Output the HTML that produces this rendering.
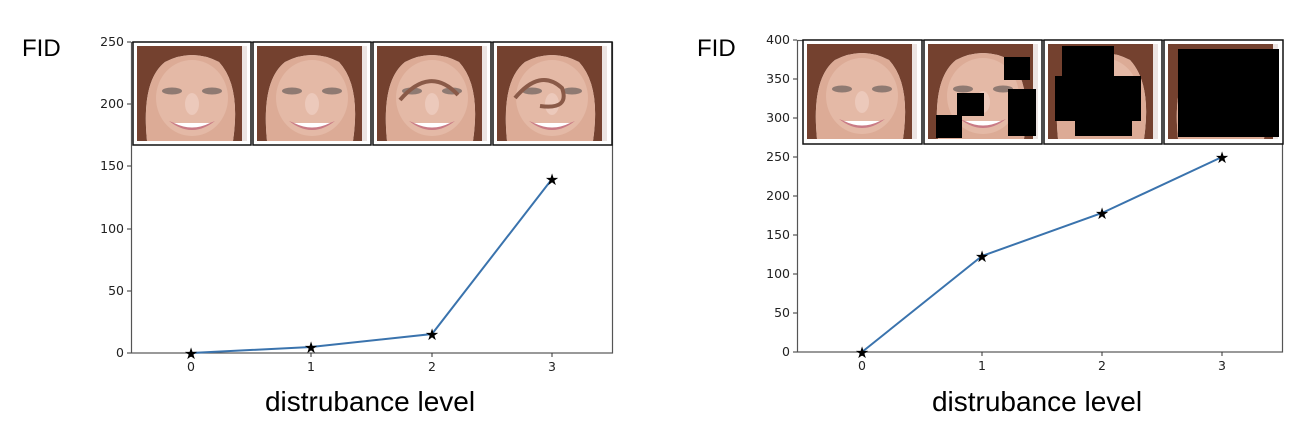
<!DOCTYPE html>
<html><head><style>
body{margin:0;background:#fff;width:1305px;height:420px;overflow:hidden;font-family:"Liberation Sans",sans-serif}
</style></head><body>
<svg width="1305" height="420" viewBox="0 0 1305 420" xmlns="http://www.w3.org/2000/svg" font-family="DejaVu Sans, Liberation Sans, sans-serif">
<defs>
<g id="face">
<rect x="0" y="0" width="110" height="95" fill="#ece4e2"/>
<path d="M0,0 H105 V95 H96 Q104,40 82,16 Q55,2 28,16 Q4,35 10,95 H0 Z" fill="#74412f"/>
<path d="M10,95 Q4,35 28,16 Q55,2 82,16 Q104,40 96,95 Z" fill="#dcab96"/>
<ellipse cx="55" cy="52" rx="36" ry="38" fill="#e4b9a6"/>
<ellipse cx="35" cy="45" rx="10" ry="3.5" fill="#8f7a72"/>
<ellipse cx="75" cy="45" rx="10" ry="3.5" fill="#8f7a72"/>
<ellipse cx="55" cy="58" rx="7" ry="11" fill="#ecc9bb"/>
<path d="M32,75 Q55,93 78,75 Q55,85 32,75Z" fill="#c97b86"/>
<path d="M37,77 Q55,86 73,77 Z" fill="#fff"/>
</g>
</defs>
<!-- LEFT -->
<text x="22" y="56" font-family="Liberation Sans" font-size="24">FID</text>
<rect x="131.5" y="42.5" width="481" height="310.5" fill="none" stroke="#555" stroke-width="1.2"/>
<g font-size="12.5" fill="#222" text-anchor="end">
<text x="124" y="357">0</text><text x="124" y="295">50</text><text x="124" y="233">100</text><text x="124" y="170">150</text><text x="124" y="108">200</text><text x="124" y="46">250</text>
</g>
<g stroke="#333"><line x1="127" y1="353" x2="131" y2="353"/><line x1="127" y1="291" x2="131" y2="291"/><line x1="127" y1="229" x2="131" y2="229"/><line x1="127" y1="166" x2="131" y2="166"/><line x1="127" y1="104" x2="131" y2="104"/><line x1="127" y1="42" x2="131" y2="42"/>
<line x1="191" y1="353" x2="191" y2="357"/><line x1="311" y1="353" x2="311" y2="357"/><line x1="432" y1="353" x2="432" y2="357"/><line x1="552" y1="353" x2="552" y2="357"/></g>
<g font-size="12.5" fill="#222" text-anchor="middle"><text x="191" y="371">0</text><text x="311" y="371">1</text><text x="432" y="371">2</text><text x="552" y="371">3</text></g>
<g fill="#fff" stroke="#111" stroke-width="1.5">
<rect x="133" y="42" width="118" height="103"/><rect x="253" y="42" width="118" height="103"/><rect x="373" y="42" width="118" height="103"/><rect x="493" y="42" width="119" height="103"/></g>
<use href="#face" x="137" y="46"/><use href="#face" x="257" y="46"/><use href="#face" x="377" y="46"/><use href="#face" x="497" y="46"/>
<path d="M400,100 Q430,65 458,95 M515,98 Q540,68 562,88 Q570,110 540,106" stroke="#8a5a48" stroke-width="4" fill="none"/>
<polyline points="191,353 311,347 432,334 552,179" fill="none" stroke="#3a73ad" stroke-width="2"/>
<g font-size="16" text-anchor="middle" fill="#000"><text x="191" y="359">★</text><text x="311" y="353">★</text><text x="432" y="340">★</text><text x="552" y="185">★</text></g>
<text x="370" y="411" font-family="Liberation Sans" font-size="28" text-anchor="middle">distrubance level</text>

<!-- RIGHT -->
<text x="697" y="56" font-family="Liberation Sans" font-size="24">FID</text>
<rect x="797.5" y="40.5" width="485" height="311.5" fill="none" stroke="#555" stroke-width="1.2"/>
<g font-size="12.5" fill="#222" text-anchor="end">
<text x="790" y="356">0</text><text x="790" y="317">50</text><text x="790" y="278">100</text><text x="790" y="239">150</text><text x="790" y="200">200</text><text x="790" y="161">250</text><text x="790" y="122">300</text><text x="790" y="83">350</text><text x="790" y="44">400</text>
</g>
<g stroke="#333"><line x1="793" y1="352" x2="797" y2="352"/><line x1="793" y1="313" x2="797" y2="313"/><line x1="793" y1="274" x2="797" y2="274"/><line x1="793" y1="235" x2="797" y2="235"/><line x1="793" y1="196" x2="797" y2="196"/><line x1="793" y1="157" x2="797" y2="157"/><line x1="793" y1="118" x2="797" y2="118"/><line x1="793" y1="79" x2="797" y2="79"/><line x1="793" y1="40" x2="797" y2="40"/>
<line x1="862" y1="352" x2="862" y2="356"/><line x1="982" y1="352" x2="982" y2="356"/><line x1="1102" y1="352" x2="1102" y2="356"/><line x1="1222" y1="352" x2="1222" y2="356"/></g>
<g font-size="12.5" fill="#222" text-anchor="middle"><text x="862" y="370">0</text><text x="982" y="370">1</text><text x="1102" y="370">2</text><text x="1222" y="370">3</text></g>
<g fill="#fff" stroke="#111" stroke-width="1.5">
<rect x="803" y="40" width="119" height="104"/><rect x="924" y="40" width="118" height="104"/><rect x="1044" y="40" width="118" height="104"/><rect x="1164" y="40" width="119" height="104"/></g>
<use href="#face" x="807" y="44"/><use href="#face" x="928" y="44"/><use href="#face" x="1048" y="44"/><use href="#face" x="1168" y="44"/>
<g fill="#000">
<rect x="1004" y="57" width="26" height="23"/><rect x="957" y="93" width="27" height="23"/><rect x="936" y="115" width="26" height="23"/><rect x="1008" y="89" width="28" height="47"/>
<rect x="1062" y="46" width="52" height="35"/><rect x="1055" y="76" width="86" height="45"/><rect x="1075" y="118" width="57" height="18"/>
<rect x="1178" y="49" width="101" height="88"/>
</g>
<polyline points="862,352 982,256 1102,213 1222,157" fill="none" stroke="#3a73ad" stroke-width="2"/>
<g font-size="16" text-anchor="middle" fill="#000"><text x="862" y="358">★</text><text x="982" y="262">★</text><text x="1102" y="219">★</text><text x="1222" y="163">★</text></g>
<text x="1037" y="411" font-family="Liberation Sans" font-size="28" text-anchor="middle">distrubance level</text>
</svg>
</body></html>
